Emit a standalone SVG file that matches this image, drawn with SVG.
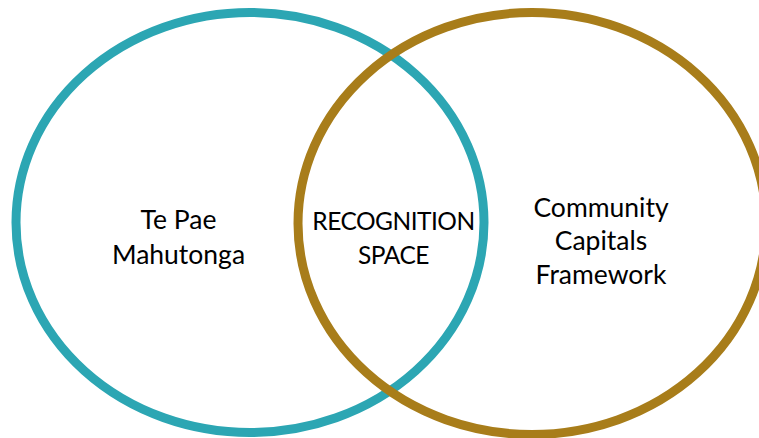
<svg xmlns="http://www.w3.org/2000/svg" width="759" height="438" viewBox="0 0 759 438">
<style>
.ring{fill:none;stroke-width:9}
.lbl{font-family:Lato,"Open Sans","Liberation Sans",sans-serif;font-size:26.5px;fill:#000;text-anchor:middle}
.mid{font-size:24.5px;letter-spacing:-0.5px}
</style>
<rect width="759" height="438" fill="#fff"/>
<g id="te-pae-mahutonga">
<ellipse class="ring" cx="250" cy="222.5" rx="234" ry="210" stroke="#2CA6B3"/>
<text class="lbl" x="178.5" y="229">Te Pae</text>
<text class="lbl" x="178.5" y="264">Mahutonga</text>
</g>
<g id="community-capitals">
<ellipse class="ring" cx="532" cy="223.5" rx="234" ry="211" stroke="#A87D1A"/>
<text class="lbl" x="601" y="217">Community</text>
<text class="lbl" x="601" y="250">Capitals</text>
<text class="lbl" x="601" y="283.5">Framework</text>
</g>
<g id="recognition-space">
<text class="lbl mid" x="393.5" y="230">RECOGNITION</text>
<text class="lbl mid" x="393.5" y="264">SPACE</text>
</g>
<g id="connectors"/>
</svg>
